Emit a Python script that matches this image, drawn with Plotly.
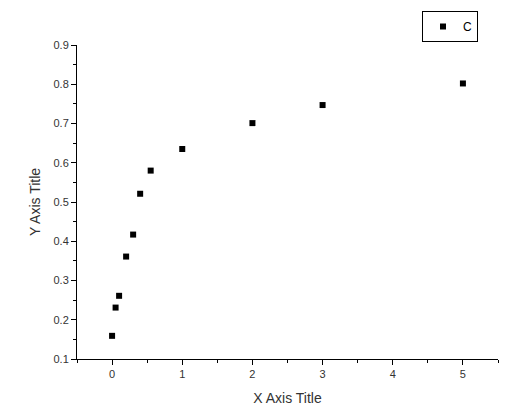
import plotly.graph_objects as go

x_vals = [0, 0.05, 0.1, 0.2, 0.3, 0.4, 0.55, 1, 2, 3, 5]
y_vals = [0.159, 0.231, 0.261, 0.361, 0.417, 0.521, 0.580, 0.635, 0.701, 0.747, 0.802]
series_name = "C"
x_title = "X Axis Title"
y_title = "Y Axis Title"

fig = go.Figure()
fig.add_trace(go.Scatter(
    x=x_vals, y=y_vals, mode="markers", name=series_name,
    marker=dict(symbol="square", size=6, color="black"),
))

font_family = "Liberation Sans, Arial, sans-serif"
axis_common = dict(
    showline=True, linecolor="black", linewidth=1,
    ticks="outside", ticklen=5, tickcolor="black", tickwidth=1,
    showgrid=False, zeroline=False, mirror=False,
    tickfont=dict(family=font_family, size=11, color="#333333"),
)
fig.update_layout(
    width=512, height=404,
    margin=dict(l=69, r=22, t=37, b=53, autoexpand=False),
    paper_bgcolor="white", plot_bgcolor="white",
    font=dict(family=font_family, color="#333333"),
    xaxis=dict(range=[-0.5, 5.5], dtick=1, tick0=0,
               minor=dict(ticks="outside", dtick=0.5, tick0=0, ticklen=3, tickcolor="black"),
               title=dict(text=x_title, font=dict(size=14, family=font_family), standoff=13),
               **axis_common),
    yaxis=dict(range=[0.1, 0.9], dtick=0.1, tick0=0.1, tickformat=".1f",
               minor=dict(ticks="outside", dtick=0.05, tick0=0.1, ticklen=3, tickcolor="black"),
               title=dict(text=y_title, font=dict(size=14, family=font_family), standoff=9),
               **axis_common),
    showlegend=True,
    legend=dict(xref="container", yref="container",
                x=414 / 512, y=1 - 3 / 404, xanchor="left", yanchor="top",
                bordercolor="black", borderwidth=1, bgcolor="white",
                font=dict(size=12, family=font_family, color="black"),
                itemwidth=30, tracegroupgap=0),
)
fig.write_html("out.html")
